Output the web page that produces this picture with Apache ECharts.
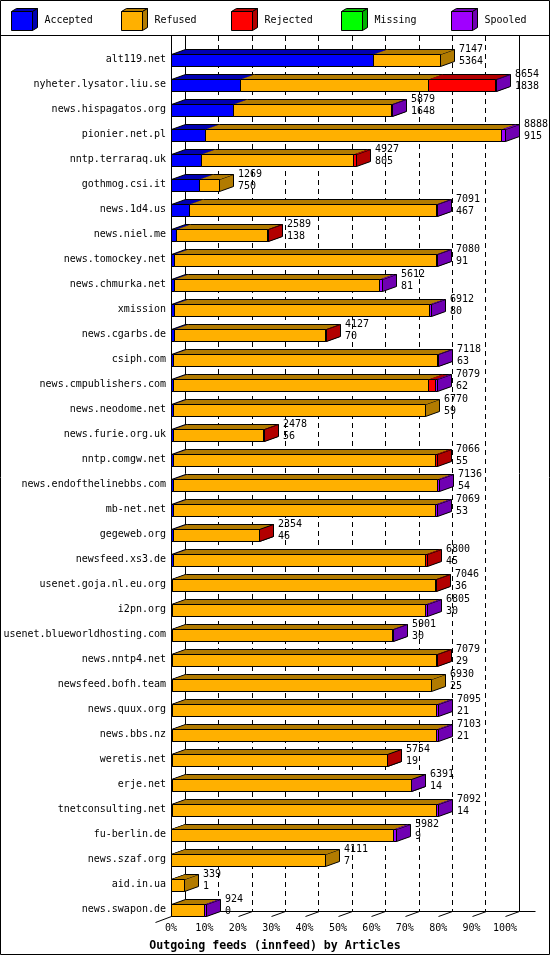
<!DOCTYPE html>
<html><head><meta charset="utf-8">
<script src="https://cdn.jsdelivr.net/npm/echarts@6/dist/echarts.min.js"></script>
<style>html,body{margin:0;padding:0;background:#fff}#c{width:550px;height:955px}</style>
</head><body><div id="c"></div>
<script>
const hosts = ['alt119.net','nyheter.lysator.liu.se','news.hispagatos.org','pionier.net.pl','nntp.terraraq.uk','gothmog.csi.it','news.1d4.us','news.niel.me','news.tomockey.net','news.chmurka.net','xmission','news.cgarbs.de','csiph.com','news.cmpublishers.com','news.neodome.net','news.furie.org.uk','nntp.comgw.net','news.endofthelinebbs.com','mb-net.net','gegeweb.org','newsfeed.xs3.de','usenet.goja.nl.eu.org','i2pn.org','usenet.blueworldhosting.com','news.nntp4.net','newsfeed.bofh.team','news.quux.org','news.bbs.nz','weretis.net','erje.net','tnetconsulting.net','fu-berlin.de','news.szaf.org','aid.in.ua','news.swapon.de'];
const totals = [7147,8654,5879,8888,4927,1269,7091,2589,7080,5612,6912,4127,7118,7079,6770,2478,7066,7136,7069,2354,6800,7046,6805,5901,7079,6930,7095,7103,5754,6391,7092,5982,4111,339,924];
const accepted = [5364,1838,1648,915,805,750,467,138,91,81,80,70,63,62,59,56,55,54,53,46,45,36,30,30,29,25,21,21,19,14,14,9,7,1,0];
const refused = [1783,4993,4198,7873,4046,519,6584,2409,6954,5456,6795,4037,7010,6785,6711,2385,6971,7032,6976,2293,6715,6990,6730,5841,7023,6905,7034,7037,5720,6362,7038,5908,4104,338,886];
const rejected = [0,1790,0,0,76,0,0,42,0,0,0,20,0,178,0,37,40,0,0,15,40,20,0,0,27,0,0,0,15,0,0,0,0,0,0];
const missing = [0,0,0,0,0,0,0,0,0,0,0,0,0,0,0,0,0,0,0,0,0,0,0,0,0,0,0,0,0,0,0,0,0,0,0];
const spooled = [0,33,33,100,0,0,40,0,35,75,37,0,45,54,0,0,0,50,40,0,0,0,45,30,0,0,40,45,0,15,40,65,0,0,38];
const seriesNames = ['Accepted','Refused','Rejected','Missing','Spooled'];
const tickValues = [0,10,20,30,40,50,60,70,80,90,100];

const FRONT = ['#0000ff','#ffb000','#ff0000','#00ff00','#a000ff'];
const DARK  = ['#0000b2','#b27b00','#b20000','#00b200','#7000b2'];
const DX = 14, DY = 5, BH = 12;
const FONT = '"DejaVu Sans Mono", "Liberation Mono", monospace';

const segValues = [accepted, refused, rejected, missing, spooled];
const axisMax = Math.max.apply(null, totals);
const pct = v => v / axisMax * 100;

const segData = segValues.map(() => []);
hosts.forEach((h, i) => {
  let acc = 0;
  segValues.forEach((arr, k) => {
    const s = acc, e = acc + arr[i];
    acc = e;
    if (arr[i] > 0) segData[k].push([pct(s), pct(e), i]);
  });
});
const labelData = hosts.map((h, i) => [pct(totals[i]), i, totals[i], accepted[i]]);

const px = x => Math.round(x) + 0.5;

function segRender(k) {
  return function (params, api) {
    const s = api.value(0), e = api.value(1), ci = api.value(2);
    const p0 = api.coord([s, ci]);
    const p1 = api.coord([e, ci]);
    const x0 = px(p0[0]), x1 = px(p1[0]);
    const y0 = Math.round(p0[1] - BH / 2) + 0.5, y1 = y0 + BH;
    const ls = {stroke: '#000', lineWidth: 1};
    const children = [
      {type: 'polygon', shape: {points: [[x1, y0], [x1 + DX, y0 - DY], [x1 + DX, y1 - DY], [x1, y1]]},
        style: Object.assign({fill: DARK[k]}, ls)},
      {type: 'polygon', shape: {points: [[x0, y0], [x0 + DX, y0 - DY], [x1 + DX, y0 - DY], [x1, y0]]},
        style: {fill: DARK[k]}},
      {type: 'polyline', shape: {points: [[x0 + DX, y0 - DY], [x1 + DX, y0 - DY]]}, style: ls},
      {type: 'rect', shape: {x: x0, y: y0, width: x1 - x0, height: BH},
        style: Object.assign({fill: FRONT[k]}, ls)}
    ];
    if (s === 0) {
      children.push({type: 'polyline', shape: {points: [[x0, y0], [x0 + DX, y0 - DY]]}, style: ls});
    }
    return {type: 'group', children};
  };
}

const series = seriesNames.map((name, k) => ({
  type: 'custom', name, xAxisIndex: 0, yAxisIndex: 0,
  data: segData[k], encode: {x: [0, 1], y: 2},
  renderItem: segRender(k), z: 5, silent: true
}));

series.push({
  type: 'custom', name: 'values', xAxisIndex: 0, yAxisIndex: 0,
  data: labelData, encode: {x: 0, y: 1}, z: 6, silent: true,
  renderItem: function (params, api) {
    const p = api.coord([api.value(0), api.value(1)]);
    return {type: 'text', style: {
      text: api.value(2) + '\n' + api.value(3),
      x: Math.round(p[0]) + DX + 5, y: p[1] - 4,
      fill: '#000', font: '10px ' + FONT, align: 'left', verticalAlign: 'middle', lineHeight: 12
    }};
  }
});

// floor: slanted ticks joining front and back positions, plus edge extensions
series.push({
  type: 'custom', name: 'floor', xAxisIndex: 1, yAxisIndex: 1,
  data: tickValues.map(v => [v, 0]), encode: {x: 0, y: 1}, z: 4, silent: true,
  renderItem: function (params, api) {
    const v = api.value(0);
    const p = api.coord([v, 0]);
    const x = px(p[0]), y = Math.round(p[1]) + 0.5;
    const st = {stroke: '#000', lineWidth: 1};
    const ch = [{type: 'polyline', shape: {points: [[x - DX, y + DY], [x, y]]}, style: st}];
    if (v === 100) ch.push({type: 'polyline', shape: {points: [[x, y], [x + 16, y]]}, style: st});
    if (v === 0) ch.push({type: 'polyline', shape: {points: [[x - 2 * DX - 2, y + 2 * DY + 1], [x - DX, y + DY]]}, style: st});
    return {type: 'group', children: ch};
  }
});

const legendGraphics = [];
seriesNames.forEach((n, i) => {
  const x0 = 11.5 + 110 * i;
  legendGraphics.push(
    {type: 'polygon', shape: {points: [[x0, 11.5], [x0 + 5, 8.5], [x0 + 26, 8.5], [x0 + 21, 11.5]]}, style: {fill: DARK[i], stroke: '#000'}},
    {type: 'polygon', shape: {points: [[x0 + 21, 11.5], [x0 + 26, 8.5], [x0 + 26, 27.5], [x0 + 21, 30.5]]}, style: {fill: DARK[i], stroke: '#000'}},
    {type: 'rect', shape: {x: x0, y: 11.5, width: 21, height: 19}, style: {fill: FRONT[i], stroke: '#000'}},
    {type: 'text', x: x0 + 33, y: 20.5, style: {text: n, fill: '#000', font: '10px ' + FONT, verticalAlign: 'middle'}}
  );
});

const hidden = {show: false};
const chart = echarts.init(document.getElementById('c'), null, {renderer: 'canvas'});
chart.setOption({
  animation: false,
  backgroundColor: '#fff',
  title: {text: 'Outgoing feeds (innfeed) by Articles', left: 'center', top: 935,
    textStyle: {fontFamily: FONT, fontWeight: 'bold', fontSize: 11.6, color: '#000'}},
  grid: [
    {left: 171, top: 47, width: 334, height: 875, containLabel: false, outerBoundsMode: 'none'},
    {left: 185, top: 36, width: 334, height: 875, containLabel: false, outerBoundsMode: 'none'},
    {left: 171, top: 36, width: 334, height: 880, containLabel: false, outerBoundsMode: 'none'}
  ],
  xAxis: [
    {type: 'value', gridIndex: 0, min: 0, max: 100, interval: 10,
      axisLine: hidden, axisTick: hidden, splitLine: hidden,
      axisLabel: {formatter: '{value}%', margin: 1, color: '#000', fontFamily: FONT, fontSize: 10}},
    {type: 'value', gridIndex: 1, min: 0, max: 100, interval: 10,
      axisLine: {show: true, lineStyle: {color: '#000', width: 1}}, axisTick: hidden, axisLabel: hidden,
      splitLine: {show: true, showMinLine: false, showMaxLine: false, lineStyle: {color: '#000', width: 1, type: [5, 4]}}},
    {type: 'value', gridIndex: 2, min: 0, max: 100, show: false}
  ],
  yAxis: [
    {type: 'category', gridIndex: 0, data: hosts, inverse: true,
      axisLine: hidden, axisTick: hidden, splitLine: hidden,
      axisLabel: {margin: 5, color: '#000', fontFamily: FONT, fontSize: 10, interval: 0}},
    {type: 'value', gridIndex: 1, min: 0, max: 1, position: 'left',
      axisLine: {show: true, lineStyle: {color: '#000'}}, axisTick: hidden, axisLabel: hidden, splitLine: hidden},
    {type: 'value', gridIndex: 1, min: 0, max: 1, position: 'right',
      axisLine: {show: true, lineStyle: {color: '#000'}}, axisTick: hidden, axisLabel: hidden, splitLine: hidden},
    {type: 'value', gridIndex: 2, min: 0, max: 1, position: 'left',
      axisLine: {show: true, lineStyle: {color: '#000'}}, axisTick: hidden, axisLabel: hidden, splitLine: hidden}
  ],
  graphic: [
    {type: 'rect', shape: {x: 0.5, y: 0.5, width: 549, height: 954}, style: {fill: 'none', stroke: '#000'}, z: 100},
    {type: 'line', shape: {x1: 0, y1: 35.5, x2: 550, y2: 35.5}, style: {stroke: '#000'}, z: 100}
  ].concat(legendGraphics),
  series
});
</script></body></html>
